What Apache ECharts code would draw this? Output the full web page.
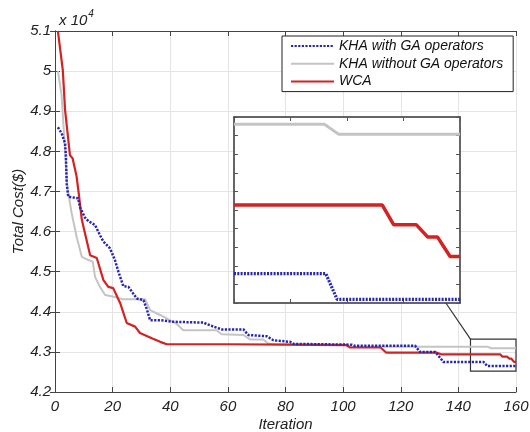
<!DOCTYPE html>
<html><head><meta charset="utf-8">
<script src="https://cdn.jsdelivr.net/npm/echarts@6/dist/echarts.min.js"></script>
<style>html,body{margin:0;padding:0;background:#fff}#c{width:530px;height:432px}</style>
</head><body><div id="c"></div>
<script>
// Values in units of 10^4 ($)
const seriesNames = ['KHA with GA operators', 'KHA without GA operators', 'WCA'];
const khaWithGA = [[1,4.86],[2.3,4.845],[3.5,4.82],[3.8,4.787],[4.05,4.72],[4.6,4.687],[8.0,4.683],[8.7,4.66],[10.4,4.635],[11.6,4.626],[13.9,4.616],[15.6,4.591],[16.8,4.575],[19.1,4.558],[20.8,4.529],[22,4.5],[23.7,4.464],[25.5,4.462],[28.4,4.433],[30.7,4.429],[31.8,4.408],[33,4.379],[36.5,4.379],[41.1,4.375],[51.5,4.373],[55,4.363],[57.9,4.356],[65.4,4.356],[67.1,4.342],[73.5,4.339],[75.8,4.329],[81.6,4.325],[82.8,4.32],[103,4.318],[104,4.315],[125,4.315],[126.7,4.30],[132,4.30],[134.8,4.275],[148.7,4.275],[150,4.265],[160,4.265]];
const khaWithoutGA = [[1,5.0],[2.3,4.94],[3.5,4.80],[4.3,4.71],[5.8,4.645],[7.5,4.587],[9.3,4.537],[11.6,4.529],[13.1,4.525],[13.9,4.487],[15.6,4.462],[17.4,4.442],[20.8,4.437],[23.7,4.431],[31.3,4.431],[33,4.404],[36.5,4.392],[42.2,4.37],[44.5,4.354],[56,4.354],[57.9,4.344],[65.4,4.342],[67.7,4.331],[72.3,4.331],[74,4.321],[76,4.319],[101,4.318],[103,4.313],[150,4.313],[151.4,4.309],[160,4.309]];
const wca = [[1,5.10],[2.7,5.003],[3.5,4.903],[5.2,4.79],[6.1,4.783],[7.5,4.737],[8.1,4.703],[9.3,4.63],[10.4,4.596],[12.2,4.541],[14.5,4.534],[16.8,4.479],[18.5,4.462],[20.2,4.459],[22.6,4.422],[24.9,4.372],[27.8,4.363],[29.5,4.347],[33.6,4.334],[36.5,4.325],[38.8,4.319],[60,4.319],[80,4.318],[101,4.317],[102.4,4.311],[113,4.311],[115,4.298],[132.5,4.298],[134,4.294],[154.5,4.294],[155.3,4.288],[156.9,4.288],[157.7,4.283],[158.4,4.283],[159.3,4.275],[160,4.275]];
// zoomed inset (iterations 144-160)
const insetWithGA = [[144,4.268],[150.5,4.268],[151.3,4.2575],[160,4.2575]];
const insetWithoutGA = [[144,4.329],[150.4,4.329],[151.4,4.325],[160,4.325]];
const insetWCA = [[144,4.296],[154.5,4.296],[155.3,4.288],[156.9,4.288],[157.7,4.283],[158.4,4.283],[159.3,4.275],[160,4.275]];
const zoomBox = {x0:144.2, x1:160, y0:4.252, y1:4.332};
const insetY = {min:4.256, max:4.332, interval:0.0076};

const FONT = 'Liberation Sans, Arial, sans-serif';
const BLUE = '#2626b0', GRAY = '#c4c4c4', RED = '#d42222';
const chart = echarts.init(document.getElementById('c'), null, {renderer:'canvas'});
const lab = {fontFamily:FONT, fontStyle:'italic', fontSize:15, color:'#222'};
const fmt = v => String(+v.toFixed(1));
const option = {
  animation:false,
  backgroundColor:'#fff',
  title:{left:54, top:2, text:'{a|x 10}{b|4}', textStyle:{fontWeight:'normal', rich:{
    a:{fontFamily:FONT, fontStyle:'italic', fontWeight:'normal', fontSize:15, color:'#222', padding:[6,0,0,0]},
    b:{fontFamily:FONT, fontStyle:'italic', fontWeight:'normal', fontSize:10, color:'#222', padding:[0,0,6,1]}}}},
  legend:{orient:'vertical', left:282, top:36, data:seriesNames, itemWidth:43, itemHeight:14, itemGap:3.8,
    padding:[3,10,3,8], backgroundColor:'#fff', borderColor:'#222', borderWidth:1,
    itemStyle:{color:'rgba(0,0,0,0)', borderWidth:0},
    textStyle:{fontFamily:FONT, fontStyle:'italic', fontSize:14, color:'#111'}},
  grid:[
    {left:55, right:14, top:31, bottom:40, outerBoundsMode:'none', containLabel:false},
    {left:234, right:70, top:117, bottom:129, outerBoundsMode:'none', containLabel:false, show:true, backgroundColor:'#fff', borderWidth:0, z:5}
  ],
  xAxis:[
    {type:'value', gridIndex:0, min:0, max:160, interval:20, name:'Iteration', nameLocation:'middle', nameGap:25, nameMoveOverlap:false,
     nameTextStyle:lab, axisLabel:Object.assign({margin:7}, lab),
     axisLine:{lineStyle:{color:'#444'}}, axisTick:{inside:true, length:5, lineStyle:{color:'#444'}},
     splitLine:{show:true, lineStyle:{color:'#e4e4e4'}}},
    {type:'value', gridIndex:0, position:'top', min:0, max:160, interval:20, axisLabel:{show:false},
     axisLine:{show:true, lineStyle:{color:'#444'}}, axisTick:{inside:true, length:5, lineStyle:{color:'#444'}}, splitLine:{show:false}},
    {type:'value', gridIndex:1, min:144, max:160, interval:4, z:6, axisLabel:{show:false},
     axisLine:{lineStyle:{color:'#333', width:1.5}}, axisTick:{inside:true, length:4, lineStyle:{color:'#555'}}, splitLine:{show:false}},
    {type:'value', gridIndex:1, position:'top', min:144, max:160, interval:4, z:6, axisLabel:{show:false},
     axisLine:{show:true, lineStyle:{color:'#333', width:1.5}}, axisTick:{inside:true, length:4, lineStyle:{color:'#555'}}, splitLine:{show:false}}
  ],
  yAxis:[
    {type:'value', gridIndex:0, min:4.2, max:5.1, interval:0.1, name:'Total Cost($)', nameLocation:'middle', nameGap:29, nameMoveOverlap:false,
     nameTextStyle:lab, axisLabel:Object.assign({margin:4, formatter:fmt}, lab),
     axisLine:{show:true, lineStyle:{color:'#444'}}, axisTick:{show:true, inside:true, length:5, lineStyle:{color:'#444'}},
     splitLine:{show:true, lineStyle:{color:'#e4e4e4'}}},
    {type:'value', gridIndex:0, position:'right', min:4.2, max:5.1, interval:0.1, axisLabel:{show:false},
     axisLine:{show:true, lineStyle:{color:'#444'}}, axisTick:{show:true, inside:true, length:5, lineStyle:{color:'#444'}}, splitLine:{show:false}},
    {type:'value', gridIndex:1, min:insetY.min, max:insetY.max, interval:insetY.interval, z:6, axisLabel:{show:false},
     axisLine:{show:true, lineStyle:{color:'#333', width:1.5}}, axisTick:{show:true, inside:true, length:4, lineStyle:{color:'#555'}}, splitLine:{show:false}},
    {type:'value', gridIndex:1, position:'right', min:insetY.min, max:insetY.max, interval:insetY.interval, z:6, axisLabel:{show:false},
     axisLine:{show:true, lineStyle:{color:'#333', width:1.5}}, axisTick:{show:true, inside:true, length:4, lineStyle:{color:'#555'}}, splitLine:{show:false}}
  ],
  series:[
    {name:seriesNames[1], type:'line', data:khaWithoutGA, symbol:'none', xAxisIndex:0, yAxisIndex:0, z:2,
     lineStyle:{color:GRAY, width:2}, itemStyle:{color:GRAY}},
    {name:seriesNames[2], type:'line', data:wca, symbol:'none', xAxisIndex:0, yAxisIndex:0, z:3,
     lineStyle:{color:RED, width:2.2}, itemStyle:{color:RED},
     markArea:{silent:true, itemStyle:{color:'rgba(0,0,0,0)', borderColor:'#333', borderWidth:1.2}, label:{show:false},
       data:[[{coord:[zoomBox.x0, zoomBox.y1]}, {coord:[zoomBox.x1, zoomBox.y0]}]]}},
    {name:seriesNames[0], type:'line', data:khaWithGA, symbol:'none', xAxisIndex:0, yAxisIndex:0, z:4,
     lineStyle:{color:BLUE, width:2.5, type:[2.2,1.4]}, itemStyle:{color:BLUE}},
    {name:'i1', type:'line', data:insetWithoutGA, symbol:'none', xAxisIndex:2, yAxisIndex:2, z:7, clip:true,
     lineStyle:{color:GRAY, width:3}},
    {name:'i2', type:'line', data:insetWCA, symbol:'none', xAxisIndex:2, yAxisIndex:2, z:7, clip:true,
     lineStyle:{color:RED, width:3.5}},
    {name:'i0', type:'line', data:insetWithGA, symbol:'none', xAxisIndex:2, yAxisIndex:2, z:7, clip:true,
     lineStyle:{color:BLUE, width:3.2, type:[2,1.3]}}
  ]
};
chart.setOption(option);
const p1 = chart.convertToPixel({xAxisIndex:2, yAxisIndex:2}, [159, insetY.min]);
const p2 = chart.convertToPixel({xAxisIndex:0, yAxisIndex:0}, [zoomBox.x0, zoomBox.y1]);
chart.setOption({graphic:[{type:'line', z:10, shape:{x1:p1[0], y1:p1[1], x2:p2[0], y2:p2[1]}, style:{stroke:'#333', lineWidth:1.2}}]});
</script></body></html>
